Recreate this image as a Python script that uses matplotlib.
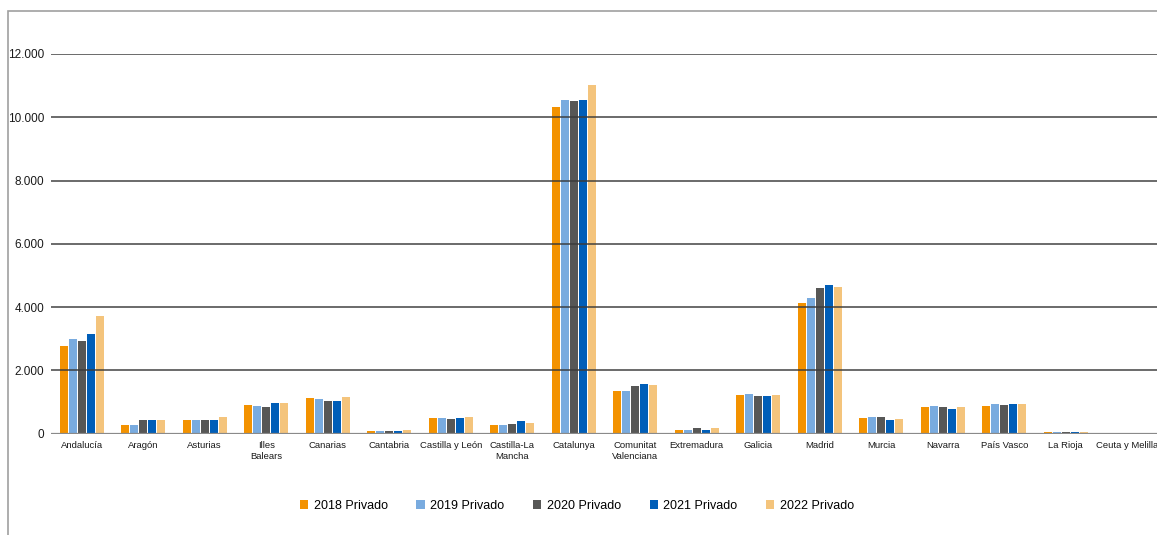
import matplotlib
matplotlib.use("Agg")
import matplotlib.pyplot as plt
import numpy as np
from matplotlib.patches import Rectangle
from matplotlib.ticker import FuncFormatter

plt.rcParams['font.family'] = ['Liberation Sans Narrow', 'Liberation Sans', 'DejaVu Sans']

regions = [
    "Andalucía", "Aragón", "Asturias", "Illes\nBalears", "Canarias", "Cantabria",
    "Castilla y León", "Castilla-La\nMancha", "Catalunya", "Comunitat\nValenciana",
    "Extremadura", "Galicia", "Madrid", "Murcia", "Navarra", "País Vasco",
    "La Rioja", "Ceuta y Melilla",
]

y2018 = [2780, 275, 434, 910, 1130, 85, 497, 275, 10310, 1354, 116, 1227, 4116, 497, 846, 878, 55, 0]
y2019 = [3005, 275, 434, 878, 1100, 85, 497, 275, 10560, 1354, 116, 1259, 4275, 529, 878, 942, 55, 0]
y2020 = [2940, 434, 434, 846, 1037, 85, 465, 307, 10500, 1513, 180, 1195, 4590, 529, 846, 910, 55, 0]
y2021 = [3164, 434, 434, 973, 1037, 85, 497, 402, 10560, 1577, 116, 1195, 4687, 434, 783, 942, 55, 0]
y2022 = [3735, 434, 529, 973, 1164, 116, 529, 339, 11010, 1545, 180, 1227, 4624, 465, 846, 942, 55, 0]

series = [y2018, y2019, y2020, y2021, y2022]
labels = ["2018 Privado", "2019 Privado", "2020 Privado", "2021 Privado", "2022 Privado"]
colors = ["#F39200", "#79ABDF", "#575756", "#005EB8", "#F4C47C"]

W, H = 1157, 535
fig = plt.figure(figsize=(W / 100, H / 100), dpi=100)

left, right = 51, 1158
bottom, top = 433.7, 54
ax = fig.add_axes([left / W, 1 - bottom / H, (right - left) / W, (bottom - top) / H])

x = np.arange(len(regions))
slot = 0.148
bw = 0.13
for i, (vals, lab, col) in enumerate(zip(series, labels, colors)):
    ax.bar(x + (i - 2) * slot, vals, width=bw, color=col, label=lab, zorder=2)

ax.set_xlim(-0.5, len(regions) - 0.5)
ax.set_ylim(0, 12000)
ax.set_yticks(np.arange(0, 12001, 2000))
ax.yaxis.set_major_formatter(FuncFormatter(lambda v, p: f"{int(v):,}".replace(",", ".")))
ax.set_xticks(x)
ax.set_xticklabels(regions, fontsize=6.8, linespacing=1.4)
ax.tick_params(axis='x', length=0, pad=5, colors='#1a1a1a')
ax.tick_params(axis='y', length=0, pad=5, labelsize=8.5, colors='#1a1a1a')

# gridlines sit on top of the bars in the original
for gy in range(2000, 12001, 2000):
    ax.axhline(gy, color='#3a3a3a', lw=1.4, alpha=0.75, zorder=3)
ax.axhline(0, color='#8a8a8a', lw=1.6, zorder=3)

for s in ax.spines.values():
    s.set_visible(False)

# outer frame of the original chart box
fig.patches.append(Rectangle((8 / W, -0.1), 1.2, 1 - 11 / H + 0.1, transform=fig.transFigure,
                             fill=False, edgecolor='#a0a0a0', lw=1.2, clip_on=False))

ax.legend(loc='center', bbox_to_anchor=(577 / W, 1 - 506 / H), bbox_transform=fig.transFigure,
          ncol=5, frameon=False, fontsize=9, handlelength=0.65, handleheight=0.65,
          handletextpad=0.45, columnspacing=2.3)

fig.savefig("out.png", dpi=100)
